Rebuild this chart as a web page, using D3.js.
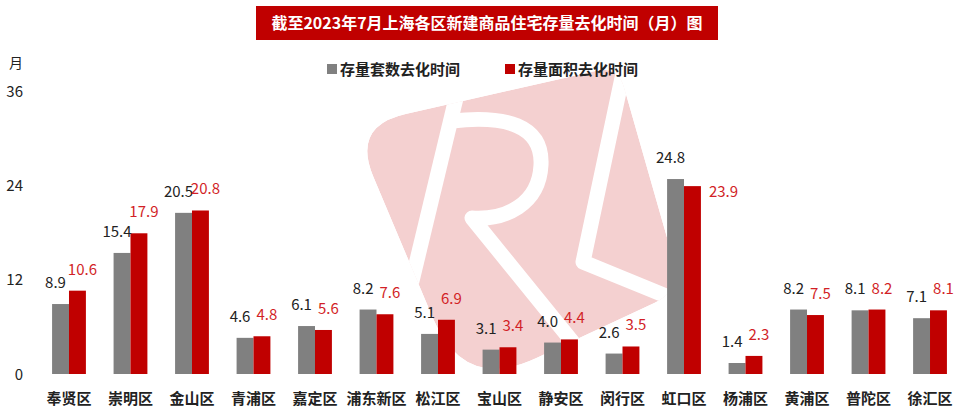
<!DOCTYPE html>
<html>
<head>
<meta charset="utf-8">
<script src="https://cdn.jsdelivr.net/npm/d3@7"></script>
<style>
  html, body { margin: 0; padding: 0; background: #fff; }
  svg { display: block; font-family: "Noto Sans CJK SC", "Noto Sans", sans-serif; }
</style>
</head>
<body>
<svg id="chart" width="960" height="413"></svg>
<script>
// ---- data ----
const categories = ["奉贤区","崇明区","金山区","青浦区","嘉定区","浦东新区","松江区","宝山区","静安区","闵行区","虹口区","杨浦区","黄浦区","普陀区","徐汇区"];
const unitsValues = [8.9, 15.4, 20.5, 4.6, 6.1, 8.2, 5.1, 3.1, 4.0, 2.6, 24.8, 1.4, 8.2, 8.1, 7.1];
const areaValues  = [10.6, 17.9, 20.8, 4.8, 5.6, 7.6, 6.9, 3.4, 4.4, 3.5, 23.9, 2.3, 7.5, 8.2, 8.1];
const seriesNames = ["存量套数去化时间", "存量面积去化时间"];
const yTicks = [0, 12, 24, 36];
const yUnit = "月";
const title = "截至2023年7月上海各区新建商品住宅存量去化时间（月）图";
const redLabelBeside = ["虹口区"];

const colors = ["#808080", "#C00000"];
const labelColors = ["#222222", "#D21F27"];

const svg = d3.select("#chart");

// ---- watermark (decorative) ----
function roundedPoly(pts, radii) {
  const n = pts.length;
  let d = "";
  for (let i = 0; i < n; i++) {
    const r = radii[i];
    const p0 = pts[(i - 1 + n) % n], p1 = pts[i], p2 = pts[(i + 1) % n];
    const v1 = [p0[0]-p1[0], p0[1]-p1[1]], v2 = [p2[0]-p1[0], p2[1]-p1[1]];
    const l1 = Math.hypot(...v1), l2 = Math.hypot(...v2);
    const a = [p1[0]+v1[0]/l1*r, p1[1]+v1[1]/l1*r];
    const b = [p1[0]+v2[0]/l2*r, p1[1]+v2[1]/l2*r];
    d += (i === 0 ? "M" : "L") + a[0] + "," + a[1] + "Q" + p1[0] + "," + p1[1] + " " + b[0] + "," + b[1];
  }
  return d + "Z";
}
const wmShape = roundedPoly([[618,66],[352,126],[464,392],[682,290]], [22, 55, 80, 30]);
const wm = svg.append("g").attr("class", "watermark");
wm.append("clipPath").attr("id", "wmclip").append("path").attr("d", wmShape);
const wmg = wm.append("g").attr("clip-path", "url(#wmclip)");
wmg.append("path").attr("d", wmShape).attr("fill", "#F4D0D0");
function wpath(d) {
  wmg.append("path").attr("d", d).attr("fill", "none").attr("stroke", "#fff")
    .attr("stroke-width", 15).attr("stroke-linejoin", "round");
}
// R: stem, bowl, leg
wpath("M470,40 L405,310");
wpath("M452,121 C505,115 543,125 541,165 C539,205 505,220 472,218 L575,345");
// second letter
wpath("M630,40 L583,262 L720,318");

// ---- title banner ----
svg.append("rect").attr("x", 256).attr("y", 6).attr("width", 462).attr("height", 34).attr("fill", "#C00000");
svg.append("text").attr("x", 487).attr("y", 29).attr("text-anchor", "middle")
  .attr("fill", "#fff").attr("font-size", 16).attr("font-weight", "bold").text(title);

// ---- scales ----
const y = d3.scaleLinear().domain([0, 36]).range([374, 91]);
const x0 = d3.scaleBand().domain(categories).range([49, 950]).paddingInner(0.45).paddingOuter(0.05);
const x1 = d3.scaleBand().domain([0, 1]).range([0, x0.bandwidth()]).padding(0);

// ---- y axis (labels only) ----
const yAxis = d3.axisLeft(y).tickValues(yTicks).tickSize(0).tickPadding(0).tickFormat(d3.format("d"));
const yg = svg.append("g").attr("transform", "translate(23,0)").call(yAxis);
yg.select(".domain").remove();
yg.selectAll("text").attr("font-size", 15).attr("fill", "#222").attr("font-family", "'Noto Sans CJK SC', sans-serif").attr("dy", "0.35em");
svg.append("text").attr("x", 16).attr("y", 68).attr("text-anchor", "middle").attr("font-size", 14).attr("fill", "#222").text(yUnit);

// ---- bars ----
const series = [unitsValues, areaValues];
const groups = svg.append("g").selectAll("g").data(categories).join("g")
  .attr("transform", d => `translate(${x0(d)},0)`);
groups.selectAll("rect").data((d, i) => series.map((s, k) => ({k, v: s[i], cat: d}))).join("rect")
  .attr("x", d => x1(d.k)).attr("width", x1.bandwidth())
  .attr("y", d => y(d.v)).attr("height", d => y(0) - y(d.v))
  .attr("fill", d => colors[d.k]);

// ---- value labels ----
groups.selectAll("text.val").data((d, i) => series.map((s, k) => ({k, v: s[i], cat: d}))).join("text")
  .attr("class", "val")
  .attr("font-size", 15)
  .attr("fill", d => labelColors[d.k])
  .attr("text-anchor", d => (d.k === 1 && redLabelBeside.includes(d.cat)) ? "start" : "middle")
  .attr("x", d => {
    if (d.k === 1 && redLabelBeside.includes(d.cat)) return x1(1) + x1.bandwidth() + 8;
    return x1(d.k) + x1.bandwidth() / 2 + (d.k === 0 ? -5 : 5);
  })
  .attr("y", d => (d.k === 1 && redLabelBeside.includes(d.cat)) ? y(d.v) + 11 : y(d.v) - 16)
  .text(d => d3.format(".1f")(d.v));

// ---- x axis labels ----
const xAxis = d3.axisBottom(x0).tickSize(0).tickPadding(0);
const xg = svg.append("g").attr("transform", "translate(0,399)").call(xAxis);
xg.select(".domain").remove();
xg.selectAll("text").attr("font-size", 15).attr("font-weight", "bold").attr("fill", "#222")
  .attr("font-family", "'Noto Sans CJK SC', sans-serif").attr("dy", "0.35em");

// ---- legend ----
const legendX = [327, 505];
const lg = svg.append("g").selectAll("g").data(seriesNames).join("g")
  .attr("transform", (d, i) => `translate(${legendX[i]},64)`);
lg.append("rect").attr("width", 10).attr("height", 10).attr("fill", (d, i) => colors[i]);
lg.append("text").attr("x", 13).attr("y", 10.5).attr("font-size", 15).attr("font-weight", "bold").attr("fill", "#222").text(d => d);
</script>
</body>
</html>
